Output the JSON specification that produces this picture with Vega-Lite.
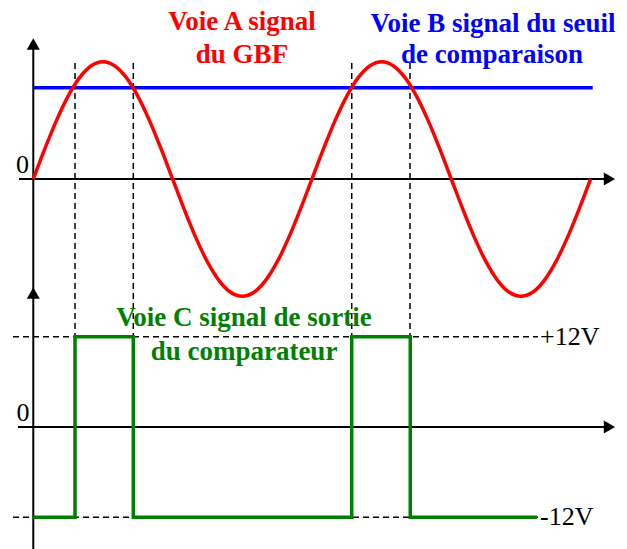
{
  "$schema": "https://vega.github.io/schema/vega-lite/v6.json",
  "width": 627,
  "height": 549,
  "padding": 0,
  "autosize": {"type": "none"},
  "background": "white",
  "config": {"view": {"stroke": null}},
  "datasets": {
    "gbf": [
      {"t": 0, "v": 0}, {"t": 15, "v": 0.2588}, {"t": 30, "v": 0.5}, {"t": 45, "v": 0.7071}, {"t": 60, "v": 0.866}, {"t": 75, "v": 0.9659}, {"t": 90, "v": 1}, {"t": 105, "v": 0.9659}, {"t": 120, "v": 0.866}, {"t": 135, "v": 0.7071}, {"t": 150, "v": 0.5}, {"t": 165, "v": 0.2588},
      {"t": 180, "v": 0}, {"t": 195, "v": -0.2588}, {"t": 210, "v": -0.5}, {"t": 225, "v": -0.7071}, {"t": 240, "v": -0.866}, {"t": 255, "v": -0.9659}, {"t": 270, "v": -1}, {"t": 285, "v": -0.9659}, {"t": 300, "v": -0.866}, {"t": 315, "v": -0.7071}, {"t": 330, "v": -0.5}, {"t": 345, "v": -0.2588},
      {"t": 360, "v": 0}, {"t": 375, "v": 0.2588}, {"t": 390, "v": 0.5}, {"t": 405, "v": 0.7071}, {"t": 420, "v": 0.866}, {"t": 435, "v": 0.9659}, {"t": 450, "v": 1}, {"t": 465, "v": 0.9659}, {"t": 480, "v": 0.866}, {"t": 495, "v": 0.7071}, {"t": 510, "v": 0.5}, {"t": 525, "v": 0.2588},
      {"t": 540, "v": 0}, {"t": 555, "v": -0.2588}, {"t": 570, "v": -0.5}, {"t": 585, "v": -0.7071}, {"t": 600, "v": -0.866}, {"t": 615, "v": -0.9659}, {"t": 630, "v": -1}, {"t": 645, "v": -0.9659}, {"t": 660, "v": -0.866}, {"t": 675, "v": -0.7071}, {"t": 690, "v": -0.5}, {"t": 705, "v": -0.2588}, {"t": 720, "v": 0}
    ],
    "seuil": [{"t": 0, "v": 0.778}, {"t": 722.7, "v": 0.778}],
    "sortie": [
      {"i": 1, "t": 0, "v": -12}, {"i": 2, "t": 53.9, "v": -12}, {"i": 3, "t": 53.9, "v": 12}, {"i": 4, "t": 129.2, "v": 12}, {"i": 5, "t": 129.2, "v": -12},
      {"i": 6, "t": 411.4, "v": -12}, {"i": 7, "t": 411.4, "v": 12}, {"i": 8, "t": 487, "v": 12}, {"i": 9, "t": 487, "v": -12}, {"i": 10, "t": 650.7, "v": -12}
    ],
    "basculements": [{"t": 53.9}, {"t": 129.2}, {"t": 411.4}, {"t": 486.7}],
    "niveaux": [{"v": 12, "texte": "+12V"}, {"v": -12, "texte": "-12V"}],
    "titres_haut": [
      {"texte": "Voie A signal", "voie": "A", "t": 269.6, "v": 1.27},
      {"texte": "du GBF", "voie": "A", "t": 269.6, "v": 0.989},
      {"texte": "Voie B signal du seuil", "voie": "B", "t": 593.9, "v": 1.256},
      {"texte": "de comparaison", "voie": "B", "t": 592.6, "v": 0.989}
    ],
    "titres_bas": [
      {"texte": "Voie C signal de sortie", "voie": "C", "t": 272.2, "v": 13.37},
      {"texte": "du comparateur", "voie": "C", "t": 272.2, "v": 8.94}
    ]
  },
  "resolve": {"scale": {"y": "independent"}},
  "layer": [
    {
      "layer": [
        {
          "data": {"name": "basculements"},
          "mark": {"type": "rule", "color": "black", "strokeWidth": 1.5, "strokeDash": [6, 4]},
          "encoding": {
            "x": {"field": "t", "type": "quantitative", "scale": {"domain": [-43, 767], "nice": false, "zero": false}, "axis": null},
            "y": {"datum": 0.989, "type": "quantitative", "scale": {"domain": [-1, 1], "range": [296.3, 61.7], "nice": false, "zero": false}, "axis": null},
            "y2": {"datum": -2.88}
          }
        },
        {
          "data": {"values": [{}]},
          "mark": {"type": "rule", "color": "black", "strokeWidth": 2},
          "encoding": {
            "x": {"datum": -18.5, "type": "quantitative", "scale": {"domain": [-43, 767], "nice": false, "zero": false}, "axis": null},
            "x2": {"datum": 744},
            "y": {"datum": 0, "type": "quantitative", "scale": {"domain": [-1, 1], "range": [296.3, 61.7], "nice": false, "zero": false}, "axis": null}
          }
        },
        {
          "data": {"values": [{}]},
          "mark": {"type": "rule", "color": "black", "strokeWidth": 2},
          "encoding": {
            "x": {"datum": 0, "type": "quantitative", "scale": {"domain": [-43, 767], "nice": false, "zero": false}, "axis": null},
            "y": {"datum": 1.151, "type": "quantitative", "scale": {"domain": [-1, 1], "range": [296.3, 61.7], "nice": false, "zero": false}, "axis": null},
            "y2": {"datum": -3.2}
          }
        },
        {
          "data": {"values": [{}]},
          "mark": {"type": "point", "shape": "triangle-up", "filled": true, "color": "black", "opacity": 1, "size": 170},
          "encoding": {
            "x": {"datum": 0, "type": "quantitative", "scale": {"domain": [-43, 767], "nice": false, "zero": false}, "axis": null},
            "y": {"datum": 1.151, "type": "quantitative", "scale": {"domain": [-1, 1], "range": [296.3, 61.7], "nice": false, "zero": false}, "axis": null}
          }
        },
        {
          "data": {"values": [{}]},
          "mark": {"type": "point", "shape": "triangle-right", "filled": true, "color": "black", "opacity": 1, "size": 170},
          "encoding": {
            "x": {"datum": 744.3, "type": "quantitative", "scale": {"domain": [-43, 767], "nice": false, "zero": false}, "axis": null},
            "y": {"datum": 0, "type": "quantitative", "scale": {"domain": [-1, 1], "range": [296.3, 61.7], "nice": false, "zero": false}, "axis": null}
          }
        },
        {
          "data": {"name": "seuil"},
          "mark": {"type": "line", "color": "#0000ff", "strokeWidth": 3.5},
          "encoding": {
            "x": {"field": "t", "type": "quantitative", "scale": {"domain": [-43, 767], "nice": false, "zero": false}, "axis": null},
            "y": {"field": "v", "type": "quantitative", "scale": {"domain": [-1, 1], "range": [296.3, 61.7], "nice": false, "zero": false}, "axis": null}
          }
        },
        {
          "data": {"name": "gbf"},
          "mark": {"type": "line", "color": "#ff0000", "strokeWidth": 3.5, "interpolate": "monotone"},
          "encoding": {
            "x": {"field": "t", "type": "quantitative", "scale": {"domain": [-43, 767], "nice": false, "zero": false}, "axis": null},
            "y": {"field": "v", "type": "quantitative", "scale": {"domain": [-1, 1], "range": [296.3, 61.7], "nice": false, "zero": false}, "axis": null}
          }
        },
        {
          "data": {"values": [{"texte": "0"}]},
          "mark": {"type": "text", "font": "Liberation Serif", "fontSize": 26, "color": "black", "align": "center", "baseline": "alphabetic"},
          "encoding": {
            "x": {"datum": -13.9, "type": "quantitative", "scale": {"domain": [-43, 767], "nice": false, "zero": false}, "axis": null},
            "y": {"datum": 0.051, "type": "quantitative", "scale": {"domain": [-1, 1], "range": [296.3, 61.7], "nice": false, "zero": false}, "axis": null},
            "text": {"field": "texte"}
          }
        },
        {
          "data": {"name": "titres_haut"},
          "mark": {"type": "text", "font": "Liberation Serif", "fontSize": 27, "fontWeight": "bold", "align": "center", "baseline": "alphabetic"},
          "encoding": {
            "x": {"field": "t", "type": "quantitative", "scale": {"domain": [-43, 767], "nice": false, "zero": false}, "axis": null},
            "y": {"field": "v", "type": "quantitative", "scale": {"domain": [-1, 1], "range": [296.3, 61.7], "nice": false, "zero": false}, "axis": null},
            "text": {"field": "texte"},
            "color": {"field": "voie", "type": "nominal", "scale": {"domain": ["A", "B", "C"], "range": ["#ff0000", "#0000ff", "#008000"]}, "legend": null}
          }
        }
      ]
    },
    {
      "layer": [
        {
          "data": {"name": "niveaux"},
          "mark": {"type": "rule", "color": "black", "strokeWidth": 1.5, "strokeDash": [6, 4]},
          "encoding": {
            "x": {"datum": -26.2, "type": "quantitative", "scale": {"domain": [-43, 767], "nice": false, "zero": false}, "axis": null},
            "x2": {"datum": 652},
            "y": {"field": "v", "type": "quantitative", "scale": {"domain": [-12, 12], "range": [517.3, 336.7], "nice": false, "zero": false}, "axis": null}
          }
        },
        {
          "data": {"values": [{}]},
          "mark": {"type": "rule", "color": "black", "strokeWidth": 2},
          "encoding": {
            "x": {"datum": -19.75, "type": "quantitative", "scale": {"domain": [-43, 767], "nice": false, "zero": false}, "axis": null},
            "x2": {"datum": 744},
            "y": {"datum": 0, "type": "quantitative", "scale": {"domain": [-12, 12], "range": [517.3, 336.7], "nice": false, "zero": false}, "axis": null}
          }
        },
        {
          "data": {"values": [{}]},
          "mark": {"type": "point", "shape": "triangle-up", "filled": true, "color": "black", "opacity": 1, "size": 170},
          "encoding": {
            "x": {"datum": 0, "type": "quantitative", "scale": {"domain": [-43, 767], "nice": false, "zero": false}, "axis": null},
            "y": {"datum": 17.8, "type": "quantitative", "scale": {"domain": [-12, 12], "range": [517.3, 336.7], "nice": false, "zero": false}, "axis": null}
          }
        },
        {
          "data": {"values": [{}]},
          "mark": {"type": "point", "shape": "triangle-right", "filled": true, "color": "black", "opacity": 1, "size": 170},
          "encoding": {
            "x": {"datum": 744.3, "type": "quantitative", "scale": {"domain": [-43, 767], "nice": false, "zero": false}, "axis": null},
            "y": {"datum": 0, "type": "quantitative", "scale": {"domain": [-12, 12], "range": [517.3, 336.7], "nice": false, "zero": false}, "axis": null}
          }
        },
        {
          "data": {"name": "sortie"},
          "mark": {"type": "line", "color": "#008000", "strokeWidth": 3.5},
          "encoding": {
            "x": {"field": "t", "type": "quantitative", "scale": {"domain": [-43, 767], "nice": false, "zero": false}, "axis": null},
            "y": {"field": "v", "type": "quantitative", "scale": {"domain": [-12, 12], "range": [517.3, 336.7], "nice": false, "zero": false}, "axis": null},
            "order": {"field": "i", "type": "quantitative"}
          }
        },
        {
          "data": {"name": "niveaux"},
          "mark": {"type": "text", "font": "Liberation Serif", "fontSize": 26, "color": "black", "align": "left", "baseline": "middle"},
          "encoding": {
            "x": {"datum": 654.6, "type": "quantitative", "scale": {"domain": [-43, 767], "nice": false, "zero": false}, "axis": null},
            "y": {"field": "v", "type": "quantitative", "scale": {"domain": [-12, 12], "range": [517.3, 336.7], "nice": false, "zero": false}, "axis": null},
            "text": {"field": "texte"}
          }
        },
        {
          "data": {"values": [{"texte": "0"}]},
          "mark": {"type": "text", "font": "Liberation Serif", "fontSize": 26, "color": "black", "align": "center", "baseline": "alphabetic"},
          "encoding": {
            "x": {"datum": -13.3, "type": "quantitative", "scale": {"domain": [-43, 767], "nice": false, "zero": false}, "axis": null},
            "y": {"datum": 0.84, "type": "quantitative", "scale": {"domain": [-12, 12], "range": [517.3, 336.7], "nice": false, "zero": false}, "axis": null},
            "text": {"field": "texte"}
          }
        },
        {
          "data": {"name": "titres_bas"},
          "mark": {"type": "text", "font": "Liberation Serif", "fontSize": 27, "fontWeight": "bold", "align": "center", "baseline": "alphabetic"},
          "encoding": {
            "x": {"field": "t", "type": "quantitative", "scale": {"domain": [-43, 767], "nice": false, "zero": false}, "axis": null},
            "y": {"field": "v", "type": "quantitative", "scale": {"domain": [-12, 12], "range": [517.3, 336.7], "nice": false, "zero": false}, "axis": null},
            "text": {"field": "texte"},
            "color": {"field": "voie", "type": "nominal", "scale": {"domain": ["A", "B", "C"], "range": ["#ff0000", "#0000ff", "#008000"]}, "legend": null}
          }
        }
      ]
    }
  ]
}
